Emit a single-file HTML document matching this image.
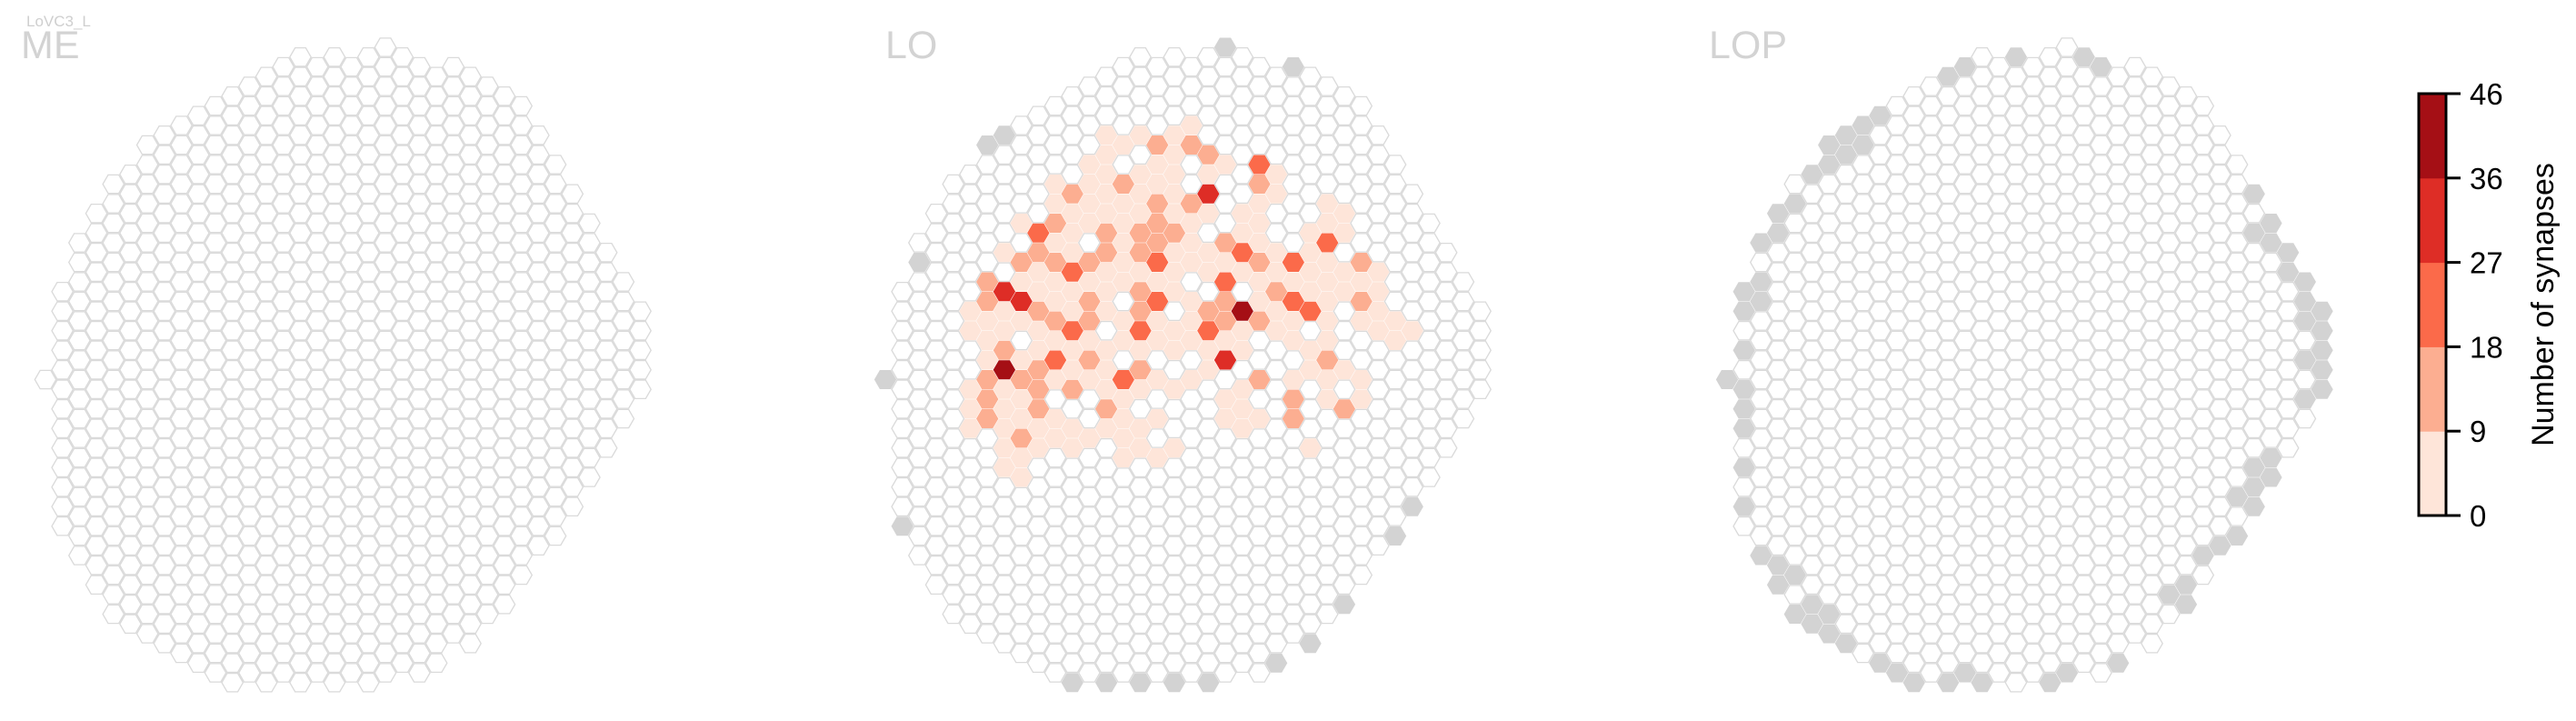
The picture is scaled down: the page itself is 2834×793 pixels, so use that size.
<!DOCTYPE html>
<html><head><meta charset="utf-8">
<style>
html,body{margin:0;padding:0;background:#fff;}
svg{display:block;font-family:"Liberation Sans",sans-serif;}
</style></head>
<body>
<svg id="chart" width="2834" height="793" viewBox="0 0 2834 793" xmlns="http://www.w3.org/2000/svg">
<text x="29" y="29" font-size="17" fill="#cfcfcf">LoVC3_L</text>
<text x="23" y="64" font-size="43" fill="#d3d3d3">ME</text>
<text x="974" y="64" font-size="43" fill="#d3d3d3">LO</text>
<text x="1880" y="64" font-size="43" fill="#d3d3d3">LOP</text>
<g id="panels"></g>
<g id="cbar"></g>
</svg>
<script>
// grid mask: per column c (0..35) the first and last half-row index
const colTop = [34,25,20,17,14,13,10,9,8,7,6,5,4,3,2,1,2,1,2,1,0,1,2,3,2,3,4,5,6,9,12,15,18,21,24,27];
const colBot = [34,49,52,55,58,59,60,61,62,63,64,65,64,65,64,65,64,65,64,65,64,63,64,63,60,61,58,57,54,51,50,47,44,41,38,35];
// gray (not-in-neuropil) cells as [col, halfRow]
const loGray = [[20,0],[24,2],[7,9],[6,10],[2,22],[0,34],[1,49],[31,47],[30,50],[27,57],[25,61],[23,63],[11,65],[13,65],[15,65],[17,65],[19,65]];
const lopGray = [[17,1],[21,1],[22,2],[14,2],[13,3],[9,7],[8,8],[7,9],[6,10],[8,10],[7,11],[6,12],[5,13],[4,16],[3,17],[3,19],[2,20],[2,24],[1,25],[2,26],[1,27],[1,31],[0,34],[1,35],[1,37],[1,39],[1,43],[1,47],[2,52],[3,53],[4,54],[3,55],[5,57],[4,58],[6,58],[5,59],[6,60],[7,61],[9,63],[10,64],[11,65],[13,65],[14,64],[15,65],[19,65],[20,64],[23,63],[26,56],[27,55],[27,57],[28,52],[29,51],[30,50],[30,46],[31,47],[31,45],[31,43],[32,42],[32,44],[34,36],[34,32],[35,35],[35,33],[35,31],[35,29],[35,27],[34,28],[34,26],[34,24],[33,23],[33,21],[32,20],[32,18],[31,19],[31,15]];
// LO synapse counts per column: [startHalfRow, counts every 2 half-rows...]
const loCounts = {
 5:[27,3,5,0,0,4,6,3],
 6:[24,13,14,5,4,6,15,12,13],
 7:[21,4,0,33,5,6,14,42,3,5,4,6,3],
 8:[18,5,0,14,6,31,4,0,5,13,6,4,12,5,3],
 9:[19,23,12,5,4,14,6,3,13,15,12,6,4],
 10:[14,4,6,13,5,14,3,7,12,5,24,6,0,4,5],
 11:[15,14,5,6,4,25,3,6,23,5,4,13,0,5,6],
 12:[12,4,6,5,3,0,14,5,13,15,6,12,4,0,0,5],
 13:[9,5,4,6,3,5,14,13,4,6,3,0,5,4,6,13,5],
 14:[10,5,0,14,6,4,5,3,6,0,4,5,0,23,6,5,4,3],
 15:[9,4,0,5,6,3,14,13,5,12,14,24,5,13,4,0,6,5],
 16:[10,14,5,6,13,12,15,23,4,22,5,6,0,4,0,5,0,6],
 17:[9,6,4,5,3,5,14,6,4,5,0,4,6,0,5,0,0,4],
 18:[8,5,13,0,0,14,6,4,5,0,6,5,4,0,5],
 19:[11,13,5,32,6,0,4,5,0,14,23,5,4],
 20:[12,5,0,0,0,13,6,22,14,12,6,33,0,5,4],
 21:[17,5,4,22,6,0,43,4,5,0,6,5,4],
 22:[12,23,13,4,5,6,14,5,4,13,0,0,12,0,5],
 23:[13,5,6,0,0,4,5,13,6,5],
 24:[22,22,5,23,4,6,0,5,13,14],
 25:[19,5,6,4,5,22,0,5,6,0,0,0,4],
 26:[16,5,4,23,6,5,4,5,6,13,5,4],
 27:[17,5,6,0,4,5,0,0,0,5,0,14],
 28:[22,13,5,14,4,0,0,5,4],
 29:[23,5,4,6,5],
 30:[28,5,4],
 31:[29,4]
};
const binEdges = [0,9,18,27,36,46];
const binColors = ['#fee5d9','#fcae91','#fb6a4a','#de2d26','#a50f15'];
const tickLabels = ['0','9','18','27','36','46'];

const NS = 'http://www.w3.org/2000/svg';
const colStep = 18.7, halfRow = 10.75, yTop = 52, R = 11.7;
const panelX = {me:50, lo:974, lop:1900};
function xOf(p,c){return panelX[p]+c*colStep;}
function yOf(h){return yTop+h*halfRow;}
function hexPts(cx,cy,r){
  let s=[];for(let i=0;i<6;i++){const a=Math.PI/3*i;s.push((cx+r*Math.cos(a)).toFixed(2)+','+(cy+r*Math.sin(a)).toFixed(2));}
  return s.join(' ');
}
function colorFor(v){
  if(!v) return null;
  for(let i=0;i<5;i++){ if(v<=binEdges[i+1]) return binColors[i]; }
  return binColors[4];
}
const panels = document.getElementById('panels');
function drawPanel(p, grays, counts){
  const g = document.createElementNS(NS,'g');
  
  
  const graySet = new Set(grays.map(a=>a[0]+':'+a[1]));
  const valMap = {};
  if(counts){
    for(const k in counts){
      const arr = counts[k];
      for(let i=1;i<arr.length;i++) valMap[k+':'+(arr[0]+2*(i-1))] = arr[i];
    }
  }
  for(let c=0;c<colTop.length;c++){
    for(let h=colTop[c];h<=colBot[c];h+=2){
      const key=c+':'+h;
      const poly=document.createElementNS(NS,'polygon');
      poly.setAttribute('points', hexPts(xOf(p,c), yOf(h), R));
      const fillC = colorFor(valMap[key]);
      if(graySet.has(key)){
        poly.setAttribute('fill','#d3d3d3');
        poly.setAttribute('stroke','#d3d3d3');
        poly.setAttribute('stroke-width','0.8');
      } else if(fillC){
        poly.setAttribute('fill',fillC);
        poly.setAttribute('stroke',fillC);
        poly.setAttribute('stroke-width','0.8');
      } else {
        poly.setAttribute('fill','#fff');
        poly.setAttribute('stroke','#dadada');
        poly.setAttribute('stroke-width','1.3');
      }
      
      
      g.appendChild(poly);
    }
  }
  panels.appendChild(g);
}
drawPanel('me', [], null);
drawPanel('lo', loGray, loCounts);
drawPanel('lop', lopGray, null);

// colorbar
const cb = document.getElementById('cbar');
const cbX=2661, cbW=30, cbTop=103, cbBot=567;
const segH=(cbBot-cbTop)/binColors.length;
function cbY(i){return cbBot - i*segH;}
for(let i=0;i<binColors.length;i++){
  const r=document.createElementNS(NS,'rect');
  r.setAttribute('x',cbX);r.setAttribute('y',cbY(i+1));r.setAttribute('width',cbW);r.setAttribute('height',segH+0.5);
  r.setAttribute('fill',binColors[i]);
  
  
  cb.appendChild(r);
}
const frame=document.createElementNS(NS,'rect');
frame.setAttribute('x',cbX);frame.setAttribute('y',cbTop);frame.setAttribute('width',cbW);frame.setAttribute('height',cbBot-cbTop);
frame.setAttribute('fill','none');frame.setAttribute('stroke','#000');frame.setAttribute('stroke-width','3');


cb.appendChild(frame);
for(let i=0;i<tickLabels.length;i++){
  const y=cbY(i);
  const t=document.createElementNS(NS,'line');
  t.setAttribute('x1',cbX+cbW);t.setAttribute('x2',cbX+cbW+16);t.setAttribute('y1',y);t.setAttribute('y2',y);
  t.setAttribute('stroke','#000');t.setAttribute('stroke-width','3');
  
  
  cb.appendChild(t);
  const tx=document.createElementNS(NS,'text');
  tx.setAttribute('x',2717);tx.setAttribute('y',y+12);tx.setAttribute('font-size','33');tx.setAttribute('fill','#000');
  tx.textContent=tickLabels[i];
  
  
  cb.appendChild(tx);
}
const lab=document.createElementNS(NS,'text');
lab.setAttribute('transform','translate(2809,335) rotate(-90)');
lab.setAttribute('text-anchor','middle');lab.setAttribute('font-size','34');lab.setAttribute('fill','#000');
lab.textContent='Number of synapses';


cb.appendChild(lab);
</script>
</body></html>
